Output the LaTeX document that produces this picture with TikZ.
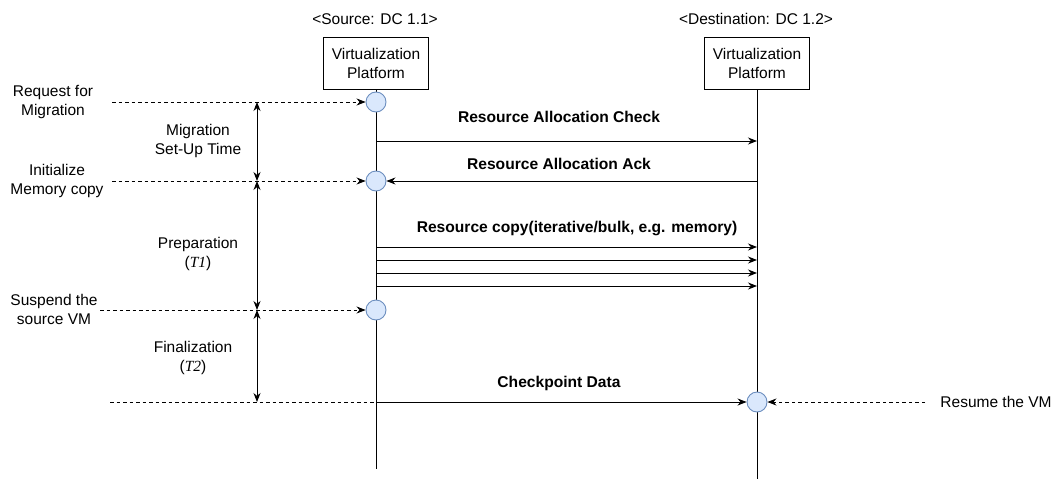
\documentclass[tikz,border=0pt]{standalone}
\usepackage{fontspec}
\setmainfont{Liberation Sans}
\newfontfamily\timesfont{Liberation Serif}
\usetikzlibrary{arrows.meta}
\definecolor{circfill}{HTML}{DAE8FC}
\definecolor{circdraw}{HTML}{6C8EBF}
\tikzset{
  every node/.style={font=\fontsize{15.5}{19}\selectfont, inner sep=0pt},
  pbox/.style={draw, line width=0.9pt, minimum width=105pt, minimum height=52pt, align=center, inner sep=0pt},
  life/.style={line width=0.9pt},
  evt/.style={circle, draw=circdraw, fill=circfill, line width=0.9pt, minimum size=20pt},
  msg/.style={line width=0.9pt, -{Stealth[length=9pt,width=7pt]}},
  dline/.style={line width=0.8pt, dash pattern=on 3.5pt off 3pt},
  dasharr/.style={line width=0.8pt, dash pattern=on 3.5pt off 3pt, -{Stealth[length=9pt,width=7pt]}},
  dbl/.style={line width=0.9pt, {Stealth[length=9pt,width=7pt]}-{Stealth[length=9pt,width=7pt]}},
  lbl/.style={align=center},
  bold/.style={font=\fontsize{15.6}{19}\selectfont\bfseries},
}
\begin{document}
\begin{tikzpicture}[x=1pt,y=-1pt]
\useasboundingbox (0,0) rectangle (1057,479);
% headers
\node (srch) at (375,19) {<Source: DC 1.1>};
\node (dsth) at (756,19) {<Destination: DC 1.2>};
\node[pbox] (src) at (376,63) {Virtualization\\Platform};
\node[pbox] (dst) at (757,63) {Virtualization\\Platform};
% lifelines
\coordinate (srcend) at (376,469);
\coordinate (dstend) at (757,479);
\draw[life] (src.south) -- (srcend);
\draw[life] (dst.south) -- (dstend);
% event circles
\node[evt] (e1) at (376,102) {};
\node[evt] (e2) at (376,181) {};
\node[evt] (e3) at (376,310) {};
\node[evt] (e4) at (757,402) {};
% left labels
\node[lbl] (l1) at (53,102) {Request for\\Migration};
\node[lbl] (l2) at (57,181) {Initialize\\Memory copy};
\node[lbl] (l3) at (54,309) {Suspend the\\source VM};
\node (l4) at (996,402) {Resume the VM};
\coordinate (d1) at (112,102);
\coordinate (d2) at (112,181);
\coordinate (d3) at (100,310);
\coordinate (d4) at (110,402);
\coordinate (d5) at (925,402);
\draw[dasharr] (d1) -- (e1);
\draw[dasharr] (d2) -- (e2);
\draw[dasharr] (d3) -- (e3);
\coordinate (s4) at (376,402);
\draw[dline] (d4) -- (s4);
\draw[dasharr] (d5) -- (e4);
% time spans
\coordinate (t1) at (257,102);
\coordinate (t2) at (257,181);
\coordinate (t3) at (257,310);
\coordinate (t4) at (257,402);
\draw[dbl] (t1) -- (t2);
\draw[dbl] (t2) -- (t3);
\draw[dbl] (t3) -- (t4);
\node[lbl] (p1) at (198,141) {Migration\\Set-Up Time};
\node[lbl] (p2) at (198,254) {Preparation\\({\timesfont\itshape T1})};
\node[lbl] (p3) at (193,358) {Finalization\\({\timesfont\itshape T2})};
% messages
\coordinate (m1s) at (376,141);
\coordinate (m1d) at (757,141);
\draw[msg] (m1s) -- (m1d);
\node[bold] (m1l) at (559,117) {Resource Allocation Check};
\coordinate (m2d) at (757,181);
\draw[msg] (m2d) -- (e2);
\node[bold] (m2l) at (559,164) {Resource Allocation Ack};
\node[bold] (m3l) at (577,228) {Resource copy(iterative/bulk, e.g. memory)};
\foreach \y/\n in {247/a,260/b,273/c,286/d}{
  \coordinate (c\n s) at (376,\y);
  \coordinate (c\n d) at (757,\y);
  \draw[msg] (c\n s) -- (c\n d);
}
\draw[msg] (s4) -- (e4);
\node[bold] (m4l) at (559,383) {Checkpoint Data};
\end{tikzpicture}
\end{document}
